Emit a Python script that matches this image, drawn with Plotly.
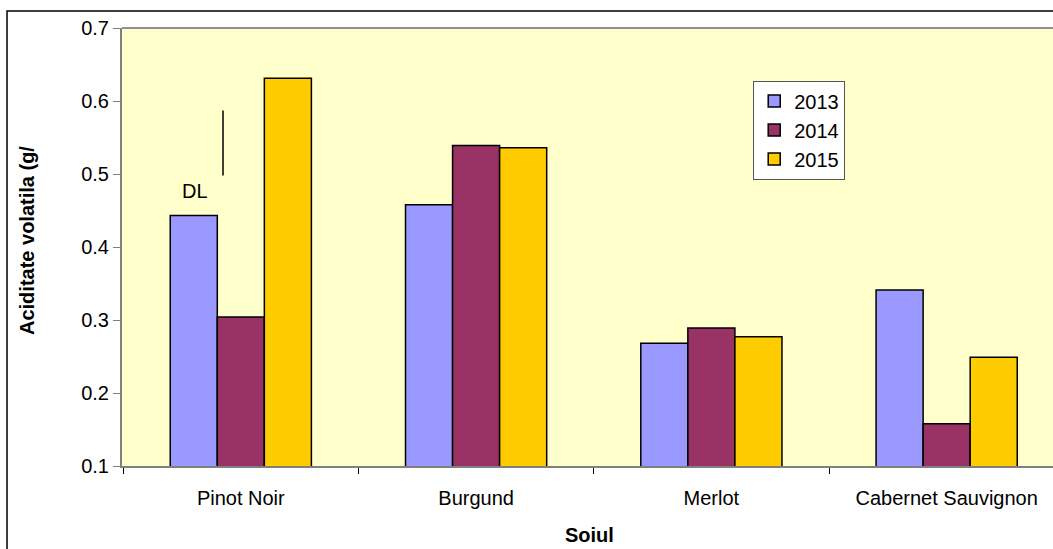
import plotly.graph_objects as go

# Soil varieties and volatile acidity per year
soiuri = ["Pinot Noir", "Burgund", "Merlot", "Cabernet Sauvignon"]
ani = ["2013", "2014", "2015"]
val_2013 = [0.443, 0.458, 0.268, 0.341]
val_2014 = [0.304, 0.539, 0.289, 0.158]
val_2015 = [0.631, 0.536, 0.277, 0.249]
culori = ["#9999FF", "#993366", "#FFCC00"]

FONT = "Liberation Sans, Arial, sans-serif"

fig = go.Figure()
for an, vals, col in zip(ani, [val_2013, val_2014, val_2015], culori):
    fig.add_trace(go.Bar(
        x=soiuri, y=vals, name=an,
        marker=dict(color=col, line=dict(color="#000000", width=1.5)),
    ))

fig.update_layout(
    width=1053, height=549,
    margin=dict(l=122, r=0, t=28, b=83),
    paper_bgcolor="white",
    plot_bgcolor="#FFFFCC",
    barmode="group",
    bargap=0.4, bargroupgap=0,
    font=dict(family=FONT, size=20, color="#000000"),
    showlegend=True,
    legend=dict(
        x=0.678, y=0.88, xanchor="left", yanchor="top",
        bgcolor="white", bordercolor="#555555", borderwidth=1,
        font=dict(size=20), tracegroupgap=0,
    ),
    xaxis=dict(
        type="category", range=[-0.505, 3.452],
        showline=True, linecolor="#808080", linewidth=2,
        ticks="outside", tickson="boundaries", ticklen=6, tickcolor="#000000",
        tickfont=dict(size=20), ticklabelstandoff=13,
        showgrid=False, zeroline=False,
    ),
    yaxis=dict(
        range=[0.1, 0.7], dtick=0.1, tickformat=".1f",
        showline=True, linecolor="#808080", linewidth=2,
        ticks="outside", ticklen=7, tickcolor="#808080",
        tickfont=dict(size=20),
        showgrid=False, zeroline=False,
    ),
)

# plot-area top edge
fig.add_shape(type="line", xref="paper", yref="paper", x0=0, x1=1, y0=1, y1=1,
              line=dict(color="#909090", width=2))
# chart border
fig.add_shape(type="rect", xref="paper", yref="paper",
              x0=-0.1235, x1=1.2, y0=-0.4, y1=1.0388,
              line=dict(color="#000000", width=1.5), layer="above")

# DL marker
fig.add_shape(type="line", xref="paper", yref="y", x0=0.1085, x1=0.1085, y0=0.498, y1=0.587,
              line=dict(color="#000000", width=1.5))
fig.add_annotation(text="DL", xref="paper", yref="y", x=(195 - 122) / 931, y=0.477,
                   xanchor="center", yanchor="middle",
                   showarrow=False, font=dict(size=20))

# axis titles
fig.add_annotation(text="<b>Aciditate volatila (g/</b>", xref="paper", yref="paper",
                   x=(27 - 122) / 931, y=(466 - 241) / 438, textangle=-90,
                   xanchor="center", yanchor="middle",
                   showarrow=False, font=dict(size=20))
fig.add_annotation(text="<b>Soiul</b>", xref="paper", yref="paper",
                   x=(589 - 122) / 931, y=(466 - 535) / 438,
                   xanchor="center", yanchor="middle",
                   showarrow=False, font=dict(size=20))

fig.write_html("out.html")
